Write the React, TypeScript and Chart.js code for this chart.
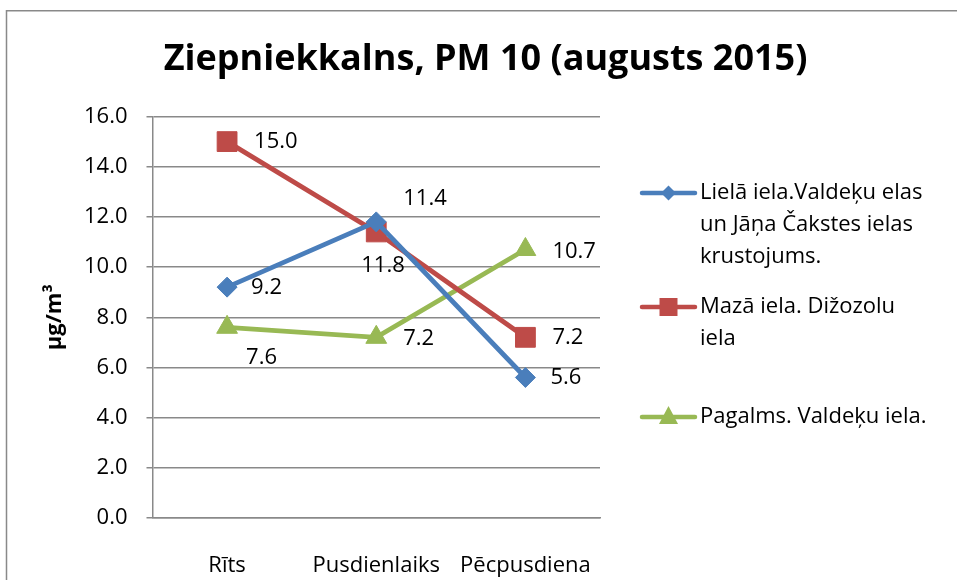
import React, { useEffect, useRef } from 'react';
import { Chart, registerables } from 'chart.js';

Chart.register(...registerables);

// ---- data ----
const TITLE = 'Ziepniekkalns, PM 10 (augusts 2015)';
const Y_TITLE = 'µg/m³';
const categories = ['Rīts', 'Pusdienlaiks', 'Pēcpusdiena'];
const lielaName = ['Lielā iela.Valdeķu elas', 'un Jāņa Čakstes ielas', 'krustojums.'];
const mazaName = ['Mazā iela. Dižozolu', 'iela'];
const pagalmsName = ['Pagalms. Valdeķu iela.'];
const lielaValues = [9.2, 11.8, 5.6];
const mazaValues = [15.0, 11.4, 7.2];
const pagalmsValues = [7.6, 7.2, 10.7];
const yMin = 0;
const yMax = 16;
const yStep = 2;

// ---- styles ----
const FONT = '"Open Sans", sans-serif';
const GRID = '#898989';
const BLUE = '#4A7EBB';
const RED = '#BE4B48';
const GREEN = '#98B954';
// data label offsets (px) from each point: [dx, dy]
const lielaLabelOff = [[24, 1], [-15, 44], [25, 0]];
const mazaLabelOff = [[27, 0], [27, -33], [27, 0]];
const pagalmsLabelOff = [[19, 30], [27, 1], [27, 2]];
const legendRowsY = [193, 307, 417];
const LEGEND_LINE_H = 31.7;

const seriesNames = [lielaName, mazaName, pagalmsName];
const seriesColors = [BLUE, RED, GREEN];
const seriesMarkers = ['diamond', 'square', 'triangle'];
const labelOffsets = [lielaLabelOff, mazaLabelOff, pagalmsLabelOff];

function drawMarker(ctx: CanvasRenderingContext2D, kind: string, x: number, y: number, color: string) {
  ctx.save();
  ctx.fillStyle = color;
  ctx.beginPath();
  if (kind === 'diamond') {
    ctx.moveTo(x, y - 7.5);
    ctx.lineTo(x + 7.5, y);
    ctx.lineTo(x, y + 7.5);
    ctx.lineTo(x - 7.5, y);
  } else if (kind === 'square') {
    ctx.rect(x - 9, y - 9, 18, 18);
  } else {
    ctx.moveTo(x, y - 11);
    ctx.lineTo(x + 9.5, y + 7);
    ctx.lineTo(x - 9.5, y + 7);
  }
  ctx.closePath();
  ctx.fill();
  ctx.restore();
}

const decorPlugin = {
  id: 'decor',
  beforeDraw(chart: any) {
    const ctx = chart.ctx as CanvasRenderingContext2D;
    ctx.save();
    ctx.fillStyle = '#fff';
    ctx.fillRect(0, 0, chart.width, chart.height);
    ctx.strokeStyle = GRID;
    ctx.lineWidth = 1.5;
    ctx.beginPath();
    ctx.moveTo(6.5, chart.height);
    ctx.lineTo(6.5, 10.75);
    ctx.lineTo(chart.width, 10.75);
    ctx.stroke();
    ctx.restore();
  },
  afterDatasetsDraw(chart: any) {
    const ctx = chart.ctx as CanvasRenderingContext2D;
    ctx.save();
    ctx.fillStyle = '#000';
    ctx.font = `22px ${FONT}`;
    ctx.textAlign = 'left';
    ctx.textBaseline = 'middle';
    chart.data.datasets.forEach((ds: any, i: number) => {
      const meta = chart.getDatasetMeta(i);
      meta.data.forEach((pt: any, j: number) => {
        const [dx, dy] = labelOffsets[i][j];
        ctx.fillText(Number(ds.data[j]).toFixed(1), pt.x + dx, pt.y + dy);
      });
    });
    ctx.restore();
  },
  afterDraw(chart: any) {
    const ctx = chart.ctx as CanvasRenderingContext2D;
    const area = chart.chartArea;
    ctx.save();
    // title
    ctx.fillStyle = '#000';
    ctx.font = `bold 36px ${FONT}`;
    ctx.textAlign = 'center';
    ctx.textBaseline = 'alphabetic';
    ctx.fillText(TITLE, 485.5, 69.5);
    // y title
    ctx.save();
    ctx.translate(55, (area.top + area.bottom) / 2);
    ctx.rotate(-Math.PI / 2);
    ctx.font = `bold 22px ${FONT}`;
    ctx.textAlign = 'center';
    ctx.textBaseline = 'middle';
    ctx.fillText(Y_TITLE, 0, 0);
    ctx.restore();
    // legend
    ctx.font = `22px ${FONT}`;
    ctx.textAlign = 'left';
    ctx.textBaseline = 'middle';
    seriesNames.forEach((lines, i) => {
      const y0 = legendRowsY[i];
      ctx.strokeStyle = seriesColors[i];
      ctx.lineWidth = 4.5;
      ctx.lineCap = 'round';
      ctx.beginPath();
      ctx.moveTo(642, y0);
      ctx.lineTo(695, y0);
      ctx.stroke();
      drawMarker(ctx, seriesMarkers[i], 668.5, y0, seriesColors[i]);
      ctx.fillStyle = '#000';
      lines.forEach((t, k) => ctx.fillText(t, 700, y0 + k * LEGEND_LINE_H));
    });
    ctx.restore();
  },
};

export default function App() {
  const ref = useRef<HTMLCanvasElement | null>(null);
  useEffect(() => {
    if (!ref.current) return;
    const mk = (label: string, data: number[], color: string, style: string, r: number) => ({
      label,
      data,
      borderColor: color,
      backgroundColor: color,
      pointBackgroundColor: color,
      pointBorderColor: color,
      pointBorderWidth: 1,
      borderWidth: 4.8,
      pointStyle: style,
      pointRadius: r,
      tension: 0,
    });
    const chart = new Chart(ref.current, {
      type: 'line',
      data: {
        labels: categories,
        datasets: [
          mk(lielaName.join(' '), lielaValues, BLUE, 'rectRot', 10),
          mk(mazaName.join(' '), mazaValues, RED, 'rect', 14),
          mk(pagalmsName.join(' '), pagalmsValues, GREEN, 'triangle', 12),
        ],
      },
      options: {
        responsive: false,
        animation: false,
        layout: { padding: { left: 0, top: 116.5, right: 357, bottom: 0 } },
        plugins: {
          legend: { display: false },
          title: { display: false },
          tooltip: { enabled: false },
        },
        scales: {
          x: {
            offset: true,
            grid: { display: false },
            border: { display: true, color: GRID, width: 1.5 },
            ticks: { color: '#000', font: { family: FONT, size: 22 }, padding: 27, maxRotation: 0 },
            afterFit: (s: any) => { s.height = 62; },
          },
          y: {
            min: yMin,
            max: yMax,
            ticks: {
              stepSize: yStep,
              color: '#000',
              font: { family: FONT, size: 22 },
              padding: 19,
              callback: (v: any) => Number(v).toFixed(1),
            },
            grid: { color: GRID, lineWidth: 1.5, tickLength: 6 },
            border: { display: true, color: GRID, width: 1.5 },
            afterFit: (s: any) => { s.width = 152.5; },
          },
        },
      } as any,
      plugins: [decorPlugin],
    });
    return () => chart.destroy();
  }, []);
  return (
    <div style={{ position: 'absolute', left: 0, top: 0, width: 957, height: 580 }}>
      <canvas ref={ref} width={957} height={580} style={{ display: 'block', width: 957, height: 580 }} />
    </div>
  );
}
